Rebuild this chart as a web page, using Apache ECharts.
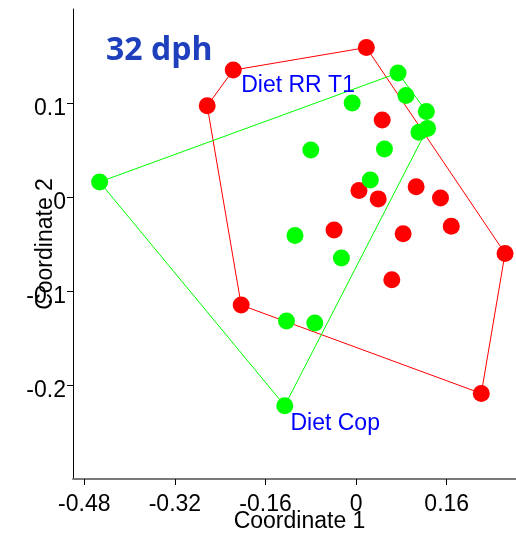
<!DOCTYPE html>
<html>
<head>
<meta charset="utf-8">
<script src="https://cdn.jsdelivr.net/npm/echarts@6/dist/echarts.min.js"></script>
<style>
  html, body { margin: 0; padding: 0; background: #ffffff; }
  #chart { width: 516px; height: 534px; }
</style>
</head>
<body>
<div id="chart"></div>
<script>
// PCoA ordination of samples at 32 dph, two diet groups with convex hulls.
const xTicks = [-0.48, -0.32, -0.16, 0, 0.16];
const yTicks = [-0.2, -0.1, 0, 0.1];

// Diet RR T1 samples [Coordinate 1, Coordinate 2]
const dietRRT1 = [
  [0.018, 0.159], [-0.217, 0.135], [-0.263, 0.097], [0.046, 0.082],
  [0.005, 0.007], [0.039, -0.002], [0.106, 0.011], [0.149, -0.001],
  [0.168, -0.031], [0.083, -0.039], [-0.039, -0.035], [0.263, -0.060],
  [0.063, -0.088], [-0.203, -0.115], [0.221, -0.209]
];
// Diet Cop samples [Coordinate 1, Coordinate 2]
const dietCop = [
  [-0.453, 0.016], [0.074, 0.132], [0.088, 0.108], [-0.007, 0.100],
  [0.124, 0.091], [0.111, 0.069], [0.126, 0.073], [-0.080, 0.050],
  [0.050, 0.051], [0.025, 0.018], [-0.108, -0.041], [-0.026, -0.065],
  [-0.123, -0.132], [-0.073, -0.134], [-0.126, -0.222]
];

// Hull vertices (indices into the sample arrays, in drawing order)
const hullRRT1 = [0, 11, 14, 13, 2, 1];
const hullCop = [0, 1, 4, 6, 14];

// Group names and where their captions sit in data space
const groupNames = ['Diet RR T1', 'Diet Cop'];
const groupCaptionAt = [[-0.203, 0.118], [-0.116, -0.241]];

const closedHull = (pts, idx) => idx.concat(idx[0]).map(i => pts[i]);

const axisFont = 'Liberation Sans, Arial, Helvetica, sans-serif';

const chart = echarts.init(document.getElementById('chart'), null, { renderer: 'canvas' });

chart.setOption({
  animation: false,
  backgroundColor: '#ffffff',
  title: {
    text: '32 dph',
    left: 106,
    top: 35,
    padding: 0,
    textStyle: {
      fontFamily: 'Open Sans, Noto Sans, sans-serif',
      fontWeight: 'bold',
      fontSize: 32,
      color: '#1e40bd'
    }
  },
  grid: {
    left: 73, right: -10, top: 9, bottom: 55,
    containLabel: false,
    outerBoundsMode: 'none'
  },
  xAxis: {
    type: 'value',
    min: -0.5,
    max: 0.3,
    splitLine: { show: false },
    axisLine: { show: true, onZero: false, lineStyle: { color: '#7a7a7a', width: 2 } },
    axisTick: { show: true, customValues: xTicks, length: 6, lineStyle: { color: '#000', width: 1 } },
    axisLabel: {
      customValues: xTicks,
      formatter: v => String(v),
      margin: 14,
      fontFamily: axisFont,
      fontSize: 23,
      color: '#000'
    },
    name: 'Coordinate 1',
    nameLocation: 'middle',
    nameGap: 31,
    nameMoveOverlap: false,
    nameTextStyle: { fontFamily: axisFont, fontSize: 23, color: '#000' }
  },
  yAxis: {
    type: 'value',
    min: -0.3,
    max: 0.2,
    splitLine: { show: false },
    axisLine: { show: true, onZero: false, lineStyle: { color: '#000', width: 1 } },
    axisTick: { show: true, customValues: yTicks, length: 6, lineStyle: { color: '#000', width: 1 } },
    axisLabel: {
      customValues: yTicks,
      formatter: v => String(v),
      margin: 7,
      verticalAlign: 'top',
      lineHeight: 12,
      fontFamily: axisFont,
      fontSize: 23,
      color: '#000'
    },
    name: 'Coordinate 2',
    nameLocation: 'middle',
    nameGap: 16,
    nameMoveOverlap: false,
    nameTextStyle: { fontFamily: axisFont, fontSize: 23, color: '#000' }
  },
  series: [
    {
      name: 'hull RR T1',
      type: 'line',
      data: closedHull(dietRRT1, hullRRT1),
      showSymbol: false,
      symbol: 'none',
      lineStyle: { color: '#ff0000', width: 1 },
      z: 1
    },
    {
      name: 'hull Cop',
      type: 'line',
      data: closedHull(dietCop, hullCop),
      showSymbol: false,
      symbol: 'none',
      lineStyle: { color: '#00ff00', width: 1 },
      z: 1
    },
    {
      name: groupNames[0],
      type: 'scatter',
      data: dietRRT1,
      symbol: 'circle',
      symbolSize: 17,
      itemStyle: { color: '#ff0000', opacity: 1 },
      z: 2
    },
    {
      name: groupNames[1],
      type: 'scatter',
      data: dietCop,
      symbol: 'circle',
      symbolSize: 17,
      itemStyle: { color: '#00ff00', opacity: 1 },
      z: 3
    },
    {
      name: 'captions',
      type: 'scatter',
      symbolSize: 0,
      silent: true,
      itemStyle: { opacity: 1 },
      data: groupNames.map((n, i) => ({ name: n, value: groupCaptionAt[i] })),
      label: {
        show: true,
        position: 'inside',
        align: 'left',
        verticalAlign: 'middle',
        formatter: p => p.name,
        fontFamily: axisFont,
        fontSize: 23,
        color: '#0000ff',
        opacity: 1
      },
      z: 4
    }
  ]
});
</script>
</body>
</html>
